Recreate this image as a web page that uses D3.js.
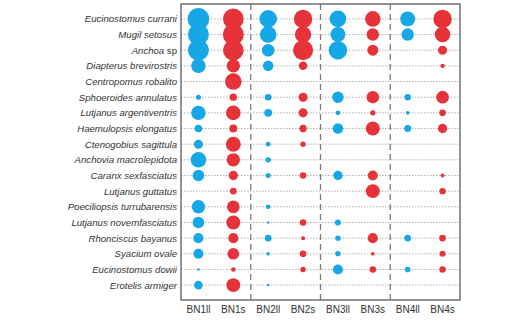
<!DOCTYPE html>
<html>
<head>
<meta charset="utf-8">
<style>
  body { margin: 0; background: #fff; }
  svg text { font-family: "Liberation Sans", Arial, sans-serif; fill: #333; }
</style>
</head>
<body>
<svg id="chart" width="528" height="324"></svg>

<script src="https://d3js.org/d3.v7.min.js"></script>
<script>
// species (rows, top to bottom)
var species = [
  "Eucinostomus currani", "Mugil setosus", "Anchoa sp", "Diapterus brevirostris",
  "Centropomus robalito", "Sphoeroides annulatus", "Lutjanus argentiventris",
  "Haemulopsis elongatus", "Ctenogobius sagittula", "Anchovia macrolepidota",
  "Caranx sexfasciatus", "Lutjanus guttatus", "Poeciliopsis turrubarensis",
  "Lutjanus novemfasciatus", "Rhonciscus bayanus", "Syacium ovale",
  "Eucinostomus dowii", "Erotelis armiger"
];

// samples (columns), "ll" = blue, "s" = red
var samples = ["BN1ll", "BN1s", "BN2ll", "BN2s", "BN3ll", "BN3s", "BN4ll", "BN4s"];

// relative abundance, one row per species, one value per sample
var abundance = [
  [96, 88, 64, 70, 57, 50, 46, 70],
  [91, 91, 57, 55, 46, 32, 32, 50],
  [91, 88, 33, 83, 70, 25, 0, 17],
  [43, 37, 23, 15, 0, 0, 0, 4],
  [0, 57, 0, 0, 0, 0, 0, 0],
  [5.2, 11, 9, 17, 27, 32, 8.5, 33],
  [43, 44, 13, 17, 4.4, 6, 2.7, 9],
  [12, 13, 0, 11, 23, 40, 10, 18],
  [17, 46, 4.4, 6, 0, 0, 0, 0],
  [50, 37, 6, 0, 0, 0, 0, 0],
  [28, 18, 5.2, 9, 18, 21, 0, 3.3],
  [0, 9, 0, 0, 0, 40, 0, 8.5],
  [37, 33, 4.4, 0, 0, 0, 0, 0],
  [28, 40, 1.2, 9, 7.4, 0, 0, 0],
  [21, 21, 9, 3.3, 6, 21, 9, 9],
  [21, 28, 2.7, 9, 6, 2.7, 0, 7.4],
  [1.2, 4.4, 0, 6, 21, 9, 6.5, 8.5],
  [15, 40, 1.4, 0, 0, 0, 0, 0]
];

var margin = {top: 4, right: 68, bottom: 24, left: 181};
var svg = d3.select("#chart");
var width = +svg.attr("width") - margin.left - margin.right;
var height = +svg.attr("height") - margin.top - margin.bottom;

var g = svg.append("g").attr("transform", "translate(" + margin.left + "," + margin.top + ")");

var x = d3.scaleBand().domain(samples).range([0, width]);
var y = d3.scalePoint().domain(species).range([0, height]).padding(0.95);
var r = d3.scaleSqrt().domain([0, 100]).range([0, 11]);
var color = function(s) { return /ll$/.test(s) ? "#16a8e6" : "#e6333a"; };

// dotted row guides
g.selectAll(".guide")
  .data(species)
  .enter().append("line")
  .attr("x1", 0).attr("x2", width)
  .attr("y1", function(d) { return y(d); })
  .attr("y2", function(d) { return y(d); })
  .attr("stroke", "#b4b4b4")
  .attr("stroke-width", 1)
  .attr("stroke-dasharray", "1.5,1.5");

// dashed separators between sites
g.selectAll(".sep")
  .data([samples[2], samples[4], samples[6]])
  .enter().append("line")
  .attr("x1", function(d) { return x(d); })
  .attr("x2", function(d) { return x(d); })
  .attr("y1", 0).attr("y2", height)
  .attr("stroke", "#7a7a7a")
  .attr("stroke-width", 1.3)
  .attr("stroke-dasharray", "6,4");

// bubbles
var cells = [];
abundance.forEach(function(row, i) {
  row.forEach(function(v, j) {
    if (v > 0) cells.push({sp: species[i], s: samples[j], v: v});
  });
});

g.selectAll(".dot")
  .data(cells)
  .enter().append("circle")
  .attr("cx", function(d) { return x(d.s) + x.bandwidth() / 2; })
  .attr("cy", function(d) { return y(d.sp); })
  .attr("r", function(d) { return r(d.v); })
  .attr("fill", function(d) { return color(d.s); });

// frame
g.append("rect")
  .attr("width", width).attr("height", height)
  .attr("fill", "none")
  .attr("stroke", "#707070")
  .attr("stroke-width", 1.5);

// y labels (genus + epithet italic, "sp" upright)
var yAxis = g.append("g").call(d3.axisLeft(y).tickSize(0).tickPadding(4));
yAxis.select(".domain").remove();
yAxis.selectAll("text")
  .attr("font-size", 9.6)
  .attr("fill", "#333")
  .text(null)
  .each(function(d) {
    var t = d3.select(this);
    var m = d.match(/^(.*) (sp)$/);
    if (m) {
      t.append("tspan").attr("font-style", "italic").text(m[1] + " ");
      t.append("tspan").text(m[2]);
    } else {
      t.append("tspan").attr("font-style", "italic").text(d);
    }
  });

// x labels
var xAxis = g.append("g")
  .attr("transform", "translate(0," + height + ")")
  .call(d3.axisBottom(x).tickSize(0).tickPadding(6));
xAxis.select(".domain").remove();
xAxis.selectAll("text").attr("font-size", 10).attr("fill", "#333");
</script>
</body>
</html>
